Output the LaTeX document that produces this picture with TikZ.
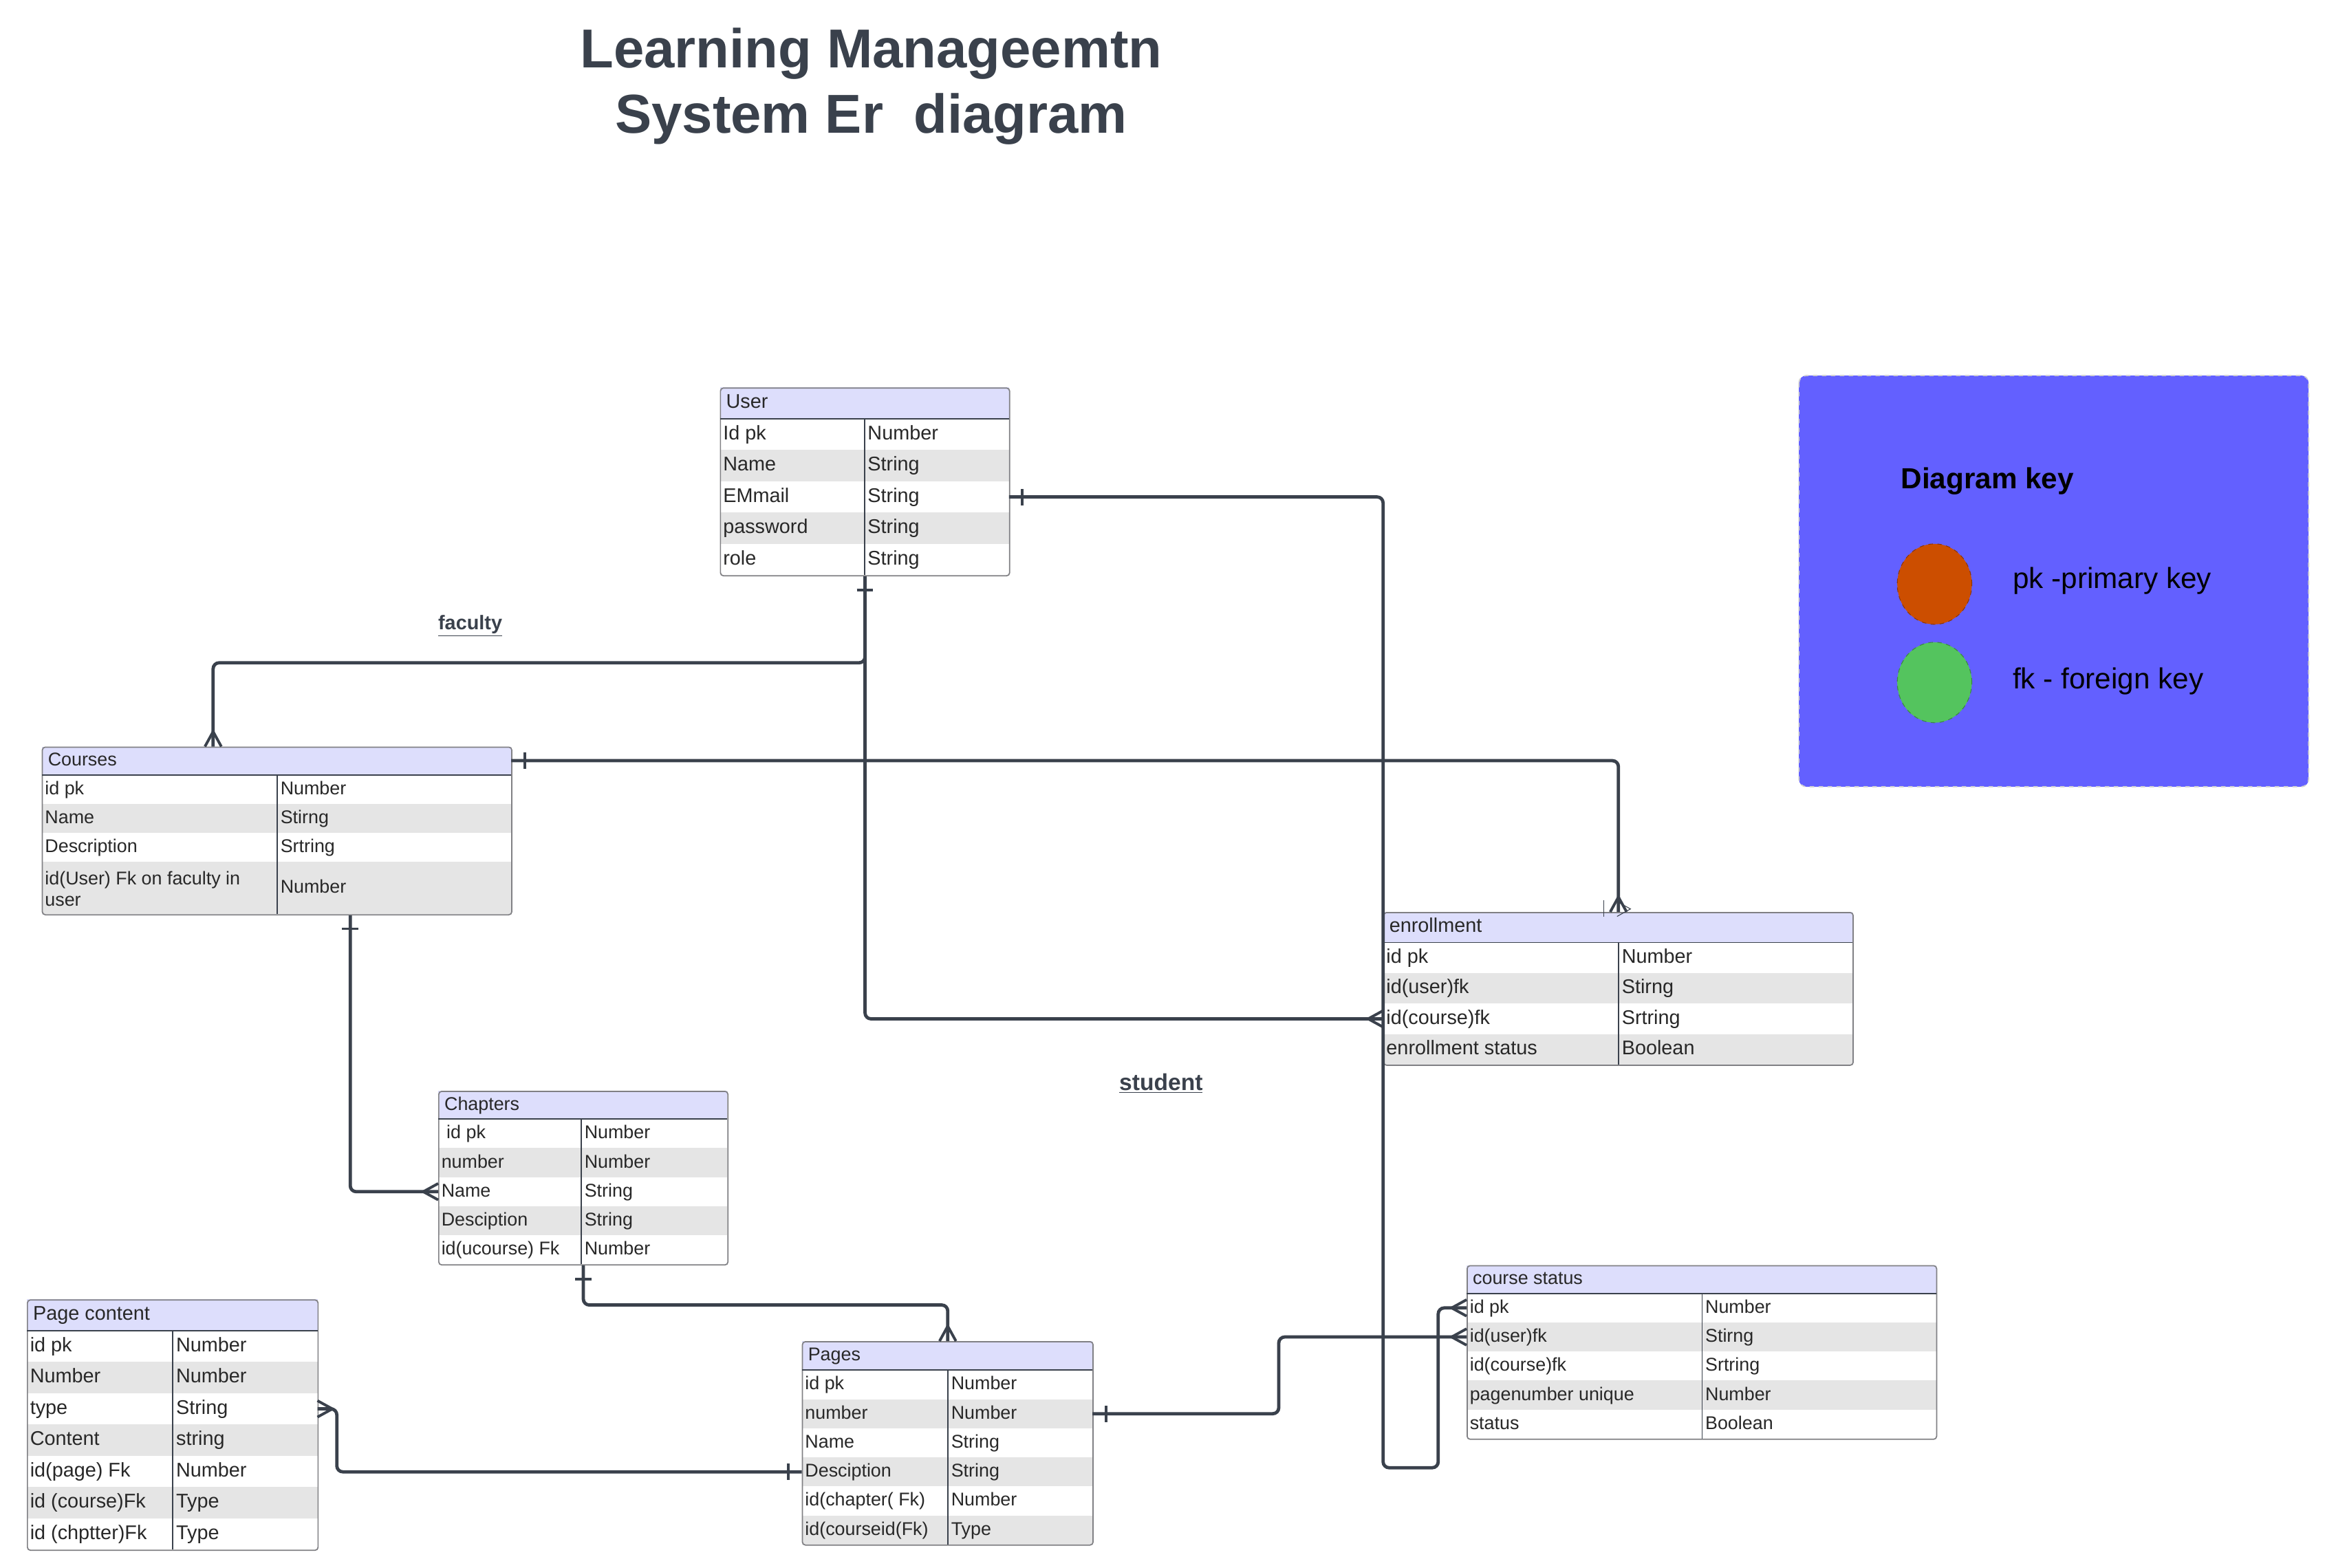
\documentclass[tikz,border=0pt]{standalone}
\usepackage{fontspec}
\setmainfont{Liberation Sans}
\definecolor{linegray}{RGB}{58, 65, 76}
\definecolor{headfill}{RGB}{221, 222, 252}
\definecolor{rowfill}{RGB}{229, 229, 229}
\definecolor{framegray}{RGB}{128, 128, 132}
\definecolor{textgray}{RGB}{40, 40, 40}
\definecolor{keyfill}{RGB}{99, 96, 255}
\definecolor{pkorange}{RGB}{204, 78, 0}
\definecolor{fkgreen}{RGB}{84, 196, 94}
\usepackage{tikz}
\usetikzlibrary{decorations.markings, shapes.geometric}

% one entity table: name, x, top, width, split, header height, title, rows, font size
\newcommand{\ertable}[9]{%
  \begin{scope}[font=\fontsize{#9}{14pt}\selectfont]
    \fill[headfill] (#2,#3) rectangle (#2+#4,#3+#6);
    \node[celltext] (#1-title) at (#2+3,#3+#6/2) {#7};
    \coordinate (#1-w0) at (#2,#3+#6/2);
    \coordinate (#1-e0) at (#2+#4,#3+#6/2);
    \foreach \fname/\ftype/\fh [count=\i, remember=\ybot as \ytop (initially #3+#6)] in {#8} {
      \pgfmathsetmacro\ybot{\ytop+\fh}
      \pgfmathsetmacro\ymid{(\ytop+\ybot)/2}
      \ifodd\i\else
        \fill[rowfill] (#2,\ytop) rectangle (#2+#4,\ybot);
      \fi
      \node[celltext] (#1-n\i) at (#2+1,\ymid) {\fname};
      \node[celltext] (#1-t\i) at (#2+#5+1,\ymid) {\ftype};
      \coordinate (#1-w\i) at (#2,\ymid);
      \coordinate (#1-e\i) at (#2+#4,\ymid);
      \xdef\tabbot{\ybot}
    }
    \pgfmathsetmacro\tabh{\tabbot-#3}
    \node[tabframe, minimum width=#4pt, minimum height=\tabh pt] (#1) at (#2,#3) {};
    \draw[tabrule] (#2,#3+#6) -- (#2+#4,#3+#6);
    \draw[tabrule] (#2+#5,#3+#6) -- (#2+#5,\tabbot);
  \end{scope}
}

\begin{document}
\begin{tikzpicture}[x=1pt, y=-1pt,
    celltext/.style={anchor=west, inner sep=1pt, text=textgray, text height=9.5pt, text depth=2.5pt},
    tabframe/.style={anchor=north west, inner sep=0pt, draw=framegray, line width=0.8pt, rounded corners=2pt},
    tabrule/.style={draw=linegray, line width=0.8pt},
    rel/.style={draw=linegray, line width=2.2pt, rounded corners=4pt},
    onestart/.style={postaction={decorate, decoration={markings,
        mark=at position 9pt with {\draw[linegray, line width=1.8pt] (0,-5.5pt) -- (0,5.5pt);}}}},
    manyend/.style={postaction={decorate, decoration={markings,
        mark=at position 1 with {\draw[linegray, line width=1.8pt, rounded corners=0pt] (0,5.5pt) -- (-10pt,0pt) -- (0,-5.5pt);}}}},
    titletext/.style={font=\fontsize{36.8pt}{44pt}\selectfont\bfseries, text=linegray, align=center},
    rellabel/.style={text=linegray, inner sep=1pt},
    keybox/.style={fill=keyfill, draw=gray!35, dashed, line width=0.8pt, rounded corners=5pt},
    keydot/.style={ellipse, minimum width=50pt, minimum height=54pt, inner sep=0pt, dashed, line width=0.5pt},
    keytext/.style={anchor=west, font=\fontsize{19.5pt}{22pt}\selectfont, text=black}]

  \fill[white] (0,0) rectangle (1560,1052.3);
  \useasboundingbox (0,0) rectangle (1560,1052.3);

  % Title
  \node[titletext] (title) at (584.5,58) {Learning Manageemtn\\System Er\ \ diagram};

  % Tables
  \ertable{user}{483}{260}{194}{97}{21}{User}
    {Id pk/Number/21, Name/String/21, EMmail/String/21, password/String/21, role/String/21}{13.3pt}
  \ertable{courses}{28}{501}{315}{158}{19}{Courses}
    {id pk/Number/19.5, Name/Stirng/19.5, Description/Srtring/19.5,
     {\smash{\parbox[c]{150pt}{id(User) Fk on faculty in\\user}}}/Number/35}{12.4pt}
  \ertable{chap}{294}{732}{194}{96}{19}{Chapters}
    {{\ id pk}/Number/19.5, number/Number/19.5, Name/String/19.5, Desciption/String/19.5,
     id(ucourse) Fk/Number/19.5}{12.4pt}
  \ertable{pages}{538}{900}{195}{98}{19.5}{Pages}
    {id pk/Number/19.5, number/Number/19.5, Name/String/19.5, Desciption/String/19.5,
     id(chapter( Fk)/Number/19.5, id(courseid(Fk)/Type/19.5}{12.4pt}
  \ertable{pcont}{18}{872}{195}{98}{21}{Page content}
    {id pk/Number/21, Number/Number/21, type/String/21, Content/string/21,
     id(page) Fk/Number/21, id (course)Fk/Type/21, id (chptter)Fk/Type/21}{13.3pt}
  \ertable{enroll}{928}{612}{315}{158}{20.5}{enrollment}
    {id pk/Number/20.5, id(user)fk/Stirng/20.5, id(course)fk/Srtring/20.5,
     enrollment status/Boolean/20.5}{13.3pt}
  \ertable{cstatus}{984}{849}{315}{158}{19}{course status}
    {id pk/Number/19.5, id(user)fk/Stirng/19.5, id(course)fk/Srtring/19.5,
     pagenumber unique/Number/19.5, status/Boolean/19.5}{12.4pt}

  % Relationships
  \draw[rel, onestart, manyend] (user.south) -- ++(0,58) -| ([xshift=115pt]courses.north west);
  \draw[rel, onestart, manyend] (user.south) |- (enroll-w3);
  \draw[rel, onestart, manyend] (user-e3) -| (928,985) -- (965,985) |- (cstatus-w1);
  \draw[rel, onestart, manyend] (courses-e0) -| (enroll.north);
  \draw[rel, onestart, manyend] ([xshift=207pt]courses.south west) |- (chap-w3);
  \draw[rel, onestart, manyend] (chap.south) -- ++(0,26.5) -| (pages.north);
  \draw[rel, onestart, manyend] (pages-w4) -| ([xshift=13pt]pcont-e3) -- (pcont-e3);
  \draw[rel, onestart, manyend] (pages-e2) -- ++(125,0) |- (cstatus-w2);
  \draw[linegray, line width=0.5pt] (1076,604) -- (1076,615);
  \draw[linegray, line width=0.5pt] (1085,605) -- (1094,610) -- (1085,615);

  \node[rellabel, font=\fontsize{13.3pt}{15pt}\selectfont\bfseries] (faculty) at (315.5,420) {\underline{faculty}};
  \node[rellabel, font=\fontsize{15.5pt}{17pt}\selectfont\bfseries] (student) at (779,727) {\underline{student}};

  % Diagram key
  \draw[keybox] (1207,252) rectangle (1549,528);
  \node[keytext, font=\fontsize{19.5pt}{22pt}\selectfont\bfseries] (keytitle) at (1272,323) {Diagram key};
  \node[keydot, fill=pkorange, draw=pkorange!70!black] (pkdot) at (1298,392) {};
  \node[keydot, fill=fkgreen, draw=fkgreen!70!black] (fkdot) at (1298,458) {};
  \node[keytext] (pktext) at (1347,390) {pk -primary key};
  \node[keytext] (fktext) at (1347,457) {fk - foreign key};
\end{tikzpicture}
\end{document}
